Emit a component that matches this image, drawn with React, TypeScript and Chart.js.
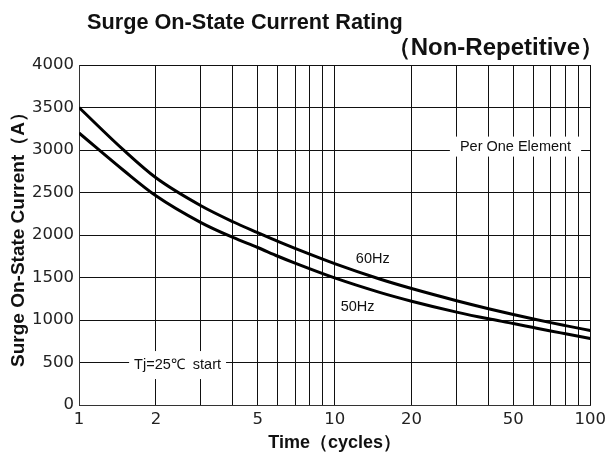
import React, { useEffect, useRef } from 'react';
import { Chart, registerables } from 'chart.js';

Chart.register(...registerables);

const titleLine1 = 'Surge On-State Current Rating';
const titleLine2 = '（Non-Repetitive）';
const xAxisTitle = 'Time（cycles）';
const yAxisTitle = 'Surge On-State Current（A）';

const cycles = [1, 1.5, 2, 3, 4, 5, 6, 7, 10, 15, 20, 30, 40, 50, 60, 70, 80, 100];
const current60Hz = [3500, 2995, 2673, 2344, 2156, 2027, 1924, 1842, 1663, 1482, 1370, 1227, 1133, 1065, 1012, 969, 934, 877];
const current50Hz = [3200, 2756, 2461, 2146, 1971, 1853, 1750, 1669, 1495, 1325, 1221, 1093, 1014, 959, 911, 871, 838, 783];

const xGridValues = [1, 2, 3, 4, 5, 6, 7, 8, 9, 10, 20, 30, 40, 50, 60, 70, 80, 90, 100];
const xLabelValues = [1, 2, 5, 10, 20, 50, 100];
const yMin = 0;
const yMax = 4000;
const yStep = 500;

const annotations = [
  { text: 'Per One Element', x: 51, y: 3040, box: true, padX: 10, padY: 2 },
  { text: 'Tj=25℃  start', x: 2.43, y: 470, box: true, padX: 5, padY: 6 },
  { text: '60Hz', x: 14.1, y: 1720, box: false, padX: 0, padY: 0 },
  { text: '50Hz', x: 12.3, y: 1150, box: false, padX: 0, padY: 0 },
];

const tickFont = { family: '"DejaVu Sans", sans-serif', size: 16.5 };
const xTitleFont = { family: '"Liberation Sans", Arial, sans-serif', size: 18, weight: 'bold' as const };
const yTitleFont = { family: '"Liberation Sans", Arial, sans-serif', size: 19, weight: 'bold' as const };

const decorPlugin = {
  id: 'decor',
  afterDatasetsDraw(chart: any) {
    const ctx = chart.ctx as CanvasRenderingContext2D;
    const xs = chart.scales.x;
    const ys = chart.scales.y;
    ctx.save();
    ctx.font = '14.5px "Liberation Sans", Arial, sans-serif';
    ctx.textAlign = 'center';
    ctx.textBaseline = 'middle';
    for (const a of annotations) {
      const cx = xs.getPixelForValue(a.x);
      const cy = ys.getPixelForValue(a.y);
      const w = ctx.measureText(a.text).width;
      if (a.box) {
        ctx.fillStyle = '#fff';
        ctx.fillRect(cx - w / 2 - a.padX, cy - 8 - a.padY, w + 2 * a.padX, 16 + 2 * a.padY);
      }
      ctx.fillStyle = '#111';
      ctx.fillText(a.text, cx, cy);
    }
    ctx.restore();
  },
  afterDraw(chart: any) {
    const ctx = chart.ctx as CanvasRenderingContext2D;
    ctx.save();
    ctx.fillStyle = '#111';
    ctx.textBaseline = 'alphabetic';
    ctx.font = 'bold 21.7px "Liberation Sans", Arial, sans-serif';
    ctx.textAlign = 'left';
    ctx.fillText(titleLine1, 87, 29);
    ctx.font = 'bold 24px "Liberation Sans", Arial, sans-serif';
    ctx.textAlign = 'right';
    ctx.fillText(titleLine2, 604, 55);
    ctx.restore();
  },
};

export default function App() {
  const ref = useRef<HTMLCanvasElement | null>(null);

  useEffect(() => {
    if (!ref.current) return;
    const chart = new Chart(ref.current, {
      type: 'line',
      data: {
        datasets: [
          {
            label: '60Hz',
            data: cycles.map((c, i) => ({ x: c, y: current60Hz[i] })),
            borderColor: '#000',
            borderWidth: 3,
            pointRadius: 0,
            cubicInterpolationMode: 'monotone',
            fill: false,
          },
          {
            label: '50Hz',
            data: cycles.map((c, i) => ({ x: c, y: current50Hz[i] })),
            borderColor: '#000',
            borderWidth: 3,
            pointRadius: 0,
            cubicInterpolationMode: 'monotone',
            fill: false,
          },
        ],
      },
      options: {
        responsive: false,
        maintainAspectRatio: false,
        animation: false,
        devicePixelRatio: 1,
        layout: { padding: { top: 65, right: 18, left: 0, bottom: 0 } },
        plugins: {
          legend: { display: false },
          tooltip: { enabled: false },
          title: { display: false },
        },
        scales: {
          x: {
            type: 'logarithmic',
            min: 1,
            max: 100,
            afterBuildTicks: (scale: any) => {
              scale.ticks = xGridValues.map((v) => ({ value: v }));
            },
            afterFit: (scale: any) => {
              scale.height = 56;
            },
            ticks: {
              autoSkip: false,
              maxRotation: 0,
              padding: 5,
              color: '#222',
              font: tickFont,
              callback: (value: any) => (xLabelValues.includes(Number(value)) ? String(value) : ''),
            },
            grid: { color: '#111', lineWidth: 1, drawTicks: false },
            border: { display: true, color: '#333', width: 1 },
            title: {
              display: true,
              text: xAxisTitle,
              color: '#111',
              font: xTitleFont,
              padding: { top: 0, bottom: 7 },
            },
          },
          y: {
            type: 'linear',
            min: yMin,
            max: yMax,
            afterFit: (scale: any) => {
              scale.width = 79;
            },
            ticks: {
              stepSize: yStep,
              padding: 5,
              color: '#222',
              font: tickFont,
              callback: (value: any) => String(value),
            },
            grid: { color: '#111', lineWidth: 1, drawTicks: false },
            border: { display: true, color: '#333', width: 1 },
            title: {
              display: true,
              text: yAxisTitle,
              color: '#111',
              font: yTitleFont,
              padding: { top: 7, bottom: 0 },
            },
          },
        },
      },
      plugins: [decorPlugin],
    } as any);
    return () => chart.destroy();
  }, []);

  return (
    <div style={{ position: 'fixed', left: 0, top: 0, width: 611, height: 461, background: '#fff' }}>
      <canvas ref={ref} width={611} height={461} style={{ display: 'block' }} />
    </div>
  );
}
